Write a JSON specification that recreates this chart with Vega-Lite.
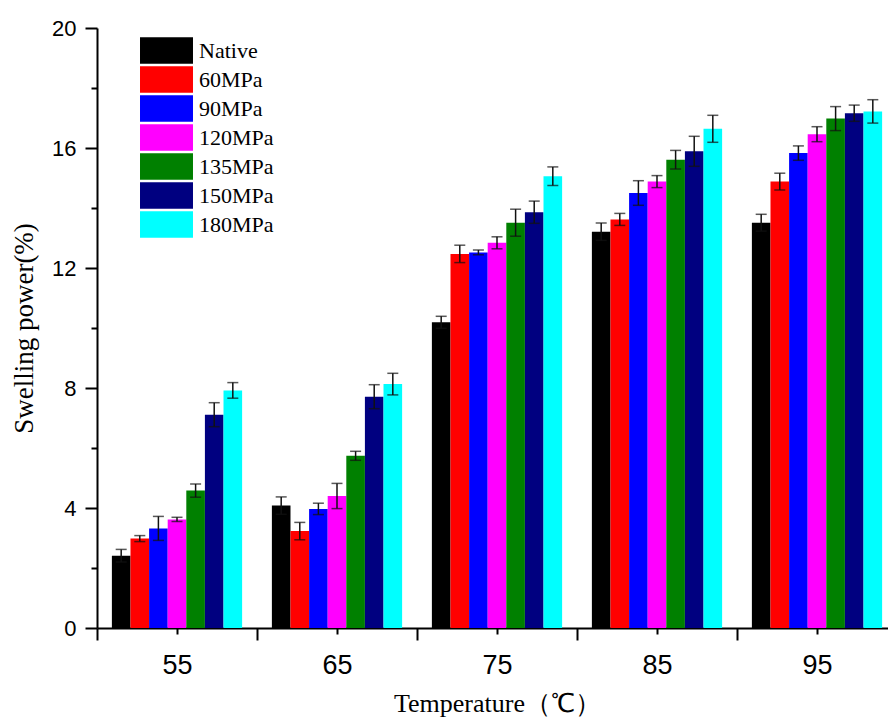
{
  "$schema": "https://vega.github.io/schema/vega-lite/v6.json",
  "width": 791,
  "height": 600,
  "autosize": {"type": "none"},
  "padding": {"left": 97, "top": 28, "right": 0, "bottom": 89},
  "background": "white",
  "config": {
    "view": {"stroke": null},
    "axis": {"domainColor": "black", "domainWidth": 2, "tickColor": "black", "tickWidth": 2, "grid": false, "labelColor": "black", "titleColor": "black"}
  },
  "data": {
    "values": [
      {"t": "55", "p": "Native", "v": 2.41, "lo": 2.20, "hi": 2.62},
      {"t": "55", "p": "60MPa", "v": 2.98, "lo": 2.88, "hi": 3.08},
      {"t": "55", "p": "90MPa", "v": 3.32, "lo": 2.92, "hi": 3.72},
      {"t": "55", "p": "120MPa", "v": 3.62, "lo": 3.55, "hi": 3.69},
      {"t": "55", "p": "135MPa", "v": 4.58, "lo": 4.36, "hi": 4.80},
      {"t": "55", "p": "150MPa", "v": 7.11, "lo": 6.71, "hi": 7.51},
      {"t": "55", "p": "180MPa", "v": 7.92, "lo": 7.66, "hi": 8.18},
      {"t": "65", "p": "Native", "v": 4.08, "lo": 3.79, "hi": 4.37},
      {"t": "65", "p": "60MPa", "v": 3.23, "lo": 2.94, "hi": 3.52},
      {"t": "65", "p": "90MPa", "v": 3.97, "lo": 3.78, "hi": 4.16},
      {"t": "65", "p": "120MPa", "v": 4.40, "lo": 3.98, "hi": 4.82},
      {"t": "65", "p": "135MPa", "v": 5.74, "lo": 5.59, "hi": 5.89},
      {"t": "65", "p": "150MPa", "v": 7.71, "lo": 7.31, "hi": 8.11},
      {"t": "65", "p": "180MPa", "v": 8.13, "lo": 7.77, "hi": 8.49},
      {"t": "75", "p": "Native", "v": 10.19, "lo": 9.99, "hi": 10.39},
      {"t": "75", "p": "60MPa", "v": 12.47, "lo": 12.18, "hi": 12.76},
      {"t": "75", "p": "90MPa", "v": 12.52, "lo": 12.44, "hi": 12.60},
      {"t": "75", "p": "120MPa", "v": 12.84, "lo": 12.64, "hi": 13.04},
      {"t": "75", "p": "135MPa", "v": 13.51, "lo": 13.06, "hi": 13.96},
      {"t": "75", "p": "150MPa", "v": 13.86, "lo": 13.49, "hi": 14.23},
      {"t": "75", "p": "180MPa", "v": 15.06, "lo": 14.75, "hi": 15.37},
      {"t": "85", "p": "Native", "v": 13.21, "lo": 12.92, "hi": 13.50},
      {"t": "85", "p": "60MPa", "v": 13.62, "lo": 13.42, "hi": 13.82},
      {"t": "85", "p": "90MPa", "v": 14.50, "lo": 14.09, "hi": 14.91},
      {"t": "85", "p": "120MPa", "v": 14.88, "lo": 14.68, "hi": 15.08},
      {"t": "85", "p": "135MPa", "v": 15.61, "lo": 15.30, "hi": 15.92},
      {"t": "85", "p": "150MPa", "v": 15.89, "lo": 15.39, "hi": 16.39},
      {"t": "85", "p": "180MPa", "v": 16.64, "lo": 16.19, "hi": 17.09},
      {"t": "95", "p": "Native", "v": 13.51, "lo": 13.23, "hi": 13.79},
      {"t": "95", "p": "60MPa", "v": 14.88, "lo": 14.60, "hi": 15.16},
      {"t": "95", "p": "90MPa", "v": 15.83, "lo": 15.59, "hi": 16.07},
      {"t": "95", "p": "120MPa", "v": 16.46, "lo": 16.21, "hi": 16.71},
      {"t": "95", "p": "135MPa", "v": 16.98, "lo": 16.58, "hi": 17.38},
      {"t": "95", "p": "150MPa", "v": 17.16, "lo": 16.89, "hi": 17.43},
      {"t": "95", "p": "180MPa", "v": 17.22, "lo": 16.83, "hi": 17.61}
    ]
  },
  "layer": [
    {
      "mark": {"type": "bar"},
      "encoding": {
        "x": {
          "field": "t", "type": "nominal", "sort": null,
          "scale": {"range": [0, 800], "paddingInner": 0, "paddingOuter": 0},
          "axis": {"orient": "bottom", "tickBand": "extent", "tickSize": 12, "labelFont": "Liberation Sans", "labelFontSize": 27, "labelPadding": 12, "labelAngle": 0,
                   "title": "Temperature（℃）", "titleFont": "Liberation Serif", "titleFontSize": 26, "titleFontWeight": "normal", "titlePadding": 12}
        },
        "xOffset": {
          "field": "p", "type": "nominal",
          "scale": {"domain": ["Native", "60MPa", "90MPa", "120MPa", "135MPa", "150MPa", "180MPa"], "paddingInner": 0, "paddingOuter": 0.8}
        },
        "y": {
          "field": "v", "type": "quantitative",
          "scale": {"domain": [0, 20], "nice": false},
          "axis": {"orient": "left", "values": [0, 4, 8, 12, 16, 20], "tickSize": 12, "labelFont": "Liberation Sans", "labelFontSize": 22, "labelPadding": 9,
                   "title": "Swelling power(%)", "titleFont": "Liberation Serif", "titleFontSize": 27, "titleFontWeight": "normal", "titlePadding": 13}
        },
        "color": {
          "field": "p", "type": "nominal",
          "scale": {"domain": ["Native", "60MPa", "90MPa", "120MPa", "135MPa", "150MPa", "180MPa"],
                    "range": ["#000000", "#ff0000", "#0000ff", "#ff00ff", "#008000", "#000080", "#00ffff"]},
          "legend": {"orient": "none", "legendX": 56, "legendY": 9, "title": null, "symbolType": "M-2,-1H2V1H-2Z", "symbolSize": 702, "symbolStrokeWidth": 0, "symbolOpacity": 1,
                     "labelFont": "Liberation Serif", "labelFontSize": 22, "labelColor": "black", "labelOffset": 19, "rowPadding": 2, "padding": 0}
        }
      }
    },
    {
      "mark": {"type": "rule", "color": "#111111", "strokeWidth": 1.5},
      "encoding": {
        "x": {"field": "t", "type": "nominal", "sort": null, "axis": {"orient": "bottom", "labels": false, "domain": false, "tickSize": 6, "title": null}},
        "xOffset": {"field": "p", "type": "nominal"},
        "y": {"field": "lo", "type": "quantitative", "axis": {"orient": "left", "values": [2, 6, 10, 14, 18], "labels": false, "domain": false, "tickSize": 6, "title": null}},
        "y2": {"field": "hi"}
      }
    },
    {
      "mark": {"type": "tick", "color": "#111111", "thickness": 1.5, "size": 11},
      "encoding": {
        "x": {"field": "t", "type": "nominal", "sort": null, "axis": null},
        "xOffset": {"field": "p", "type": "nominal"},
        "y": {"field": "lo", "type": "quantitative", "axis": null}
      }
    },
    {
      "mark": {"type": "tick", "color": "#111111", "thickness": 1.5, "size": 11},
      "encoding": {
        "x": {"field": "t", "type": "nominal", "sort": null, "axis": null},
        "xOffset": {"field": "p", "type": "nominal"},
        "y": {"field": "hi", "type": "quantitative", "axis": null}
      }
    }
  ],
  "resolve": {"axis": {"x": "independent", "y": "independent"}}
}
